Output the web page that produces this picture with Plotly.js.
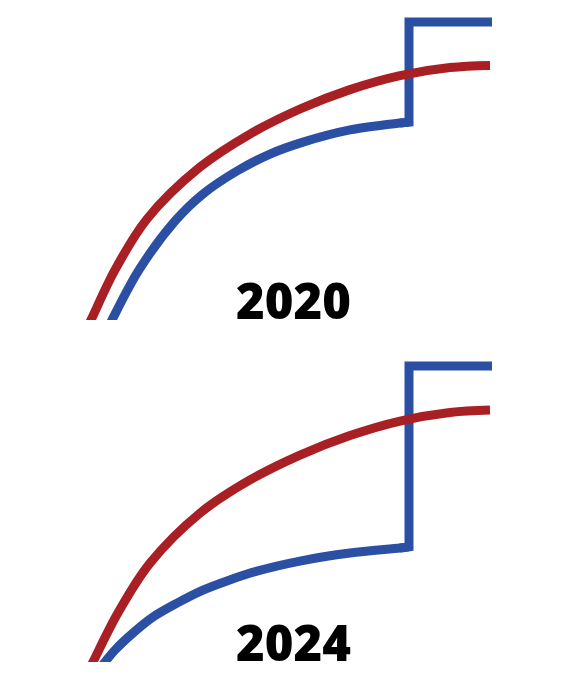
<!DOCTYPE html>
<html>
<head>
<meta charset="utf-8">
<script src="https://cdn.plot.ly/plotly-3.0.1.min.js"></script>
<style>
  html, body { margin: 0; padding: 0; background: #fff; }
  #chart { width: 588px; height: 679px; }
</style>
</head>
<body>
<div id="chart"></div>
<script>
// panel labels
var years = ['2020', '2024'];

// 2020 panel
var redX2020 = [-1.0, 0.25, 6.25, 14.25, 27.5, 40, 52.5, 65, 77.5, 90, 100];
var redY2020 = [-3.4, 0, 16.8, 33.9, 51.3, 62.4, 70.8, 77.3, 82.0, 84.7, 85.4];
var blueX2020 = [4.25, 5.5, 12.25, 21.25, 28.25, 36.75, 45, 53.25, 65, 77.5, 79.75];
var blueY2020 = [-3.4, 0, 16.8, 33.2, 42.3, 50.0, 55.7, 59.7, 63.8, 66.1, 66.4];
var stepX2020 = [77.5, 79.75, 79.75, 100.5];
var stepY2020 = [66.1, 66.4, 100, 100];

// 2024 panel
var redX2024 = [-0.5, 0.75, 7, 15, 27.5, 40, 52.5, 65, 77.5, 90, 100];
var redY2024 = [-3.4, 0, 16.6, 33.4, 50.3, 61.5, 69.9, 76.5, 81.4, 84.3, 85.1];
var blueX2024 = [1.8, 3.75, 6.25, 10.75, 15.75, 21.75, 28.25, 34.25, 41.75, 52.5, 65, 77.5, 79.75];
var blueY2024 = [-3.4, 0, 4.05, 9.8, 15.2, 19.9, 24.3, 27.4, 30.7, 34.1, 36.8, 38.5, 38.9];
var stepX2024 = [77.5, 79.75, 79.75, 100.5];
var stepY2024 = [38.5, 38.9, 100, 100];

var RED = '#a81f24';
var BLUE = '#2a4fa3';
var W = 9;

function curve(x, y, color, yax) {
    return {
        x: x, y: y, yaxis: yax,
        type: 'scatter', mode: 'lines',
        line: {color: color, width: W, shape: 'spline', smoothing: 1},
        hoverinfo: 'skip'
    };
}
function step(x, y, yax) {
    return {
        x: x, y: y, yaxis: yax,
        type: 'scatter', mode: 'lines',
        line: {color: BLUE, width: W, shape: 'linear'},
        hoverinfo: 'skip'
    };
}

var data = [
    curve(blueX2020, blueY2020, BLUE, 'y'),
    step(stepX2020, stepY2020, 'y'),
    curve(redX2020, redY2020, RED, 'y'),
    curve(blueX2024, blueY2024, BLUE, 'y2'),
    step(stepX2024, stepY2024, 'y2'),
    curve(redX2024, redY2024, RED, 'y2')
];

var labelFont = {family: 'Open Sans, DejaVu Sans, sans-serif', size: 49, color: '#000', weight: 800};

var layout = {
    width: 588,
    height: 679,
    margin: {l: 0, r: 0, t: 0, b: 0},
    paper_bgcolor: '#fff',
    plot_bgcolor: '#fff',
    showlegend: false,
    hovermode: false,
    xaxis: {range: [-22.5, 124.5], visible: false, fixedrange: true},
    yaxis: {range: [0, 107.38], domain: [0.52872, 1], visible: false, fixedrange: true},
    yaxis2: {range: [0, 108.78], domain: [0.025037, 0.49926], visible: false, fixedrange: true},
    annotations: [
        {text: years[0], x: 50.75, y: 6.7, xref: 'x', yref: 'y', showarrow: false,
         xanchor: 'center', yanchor: 'middle', font: labelFont},
        {text: years[1], x: 50.75, y: 6.76, xref: 'x', yref: 'y2', showarrow: false,
         xanchor: 'center', yanchor: 'middle', font: labelFont}
    ]
};

Plotly.newPlot('chart', data, layout, {staticPlot: true, displayModeBar: false});
</script>
</body>
</html>
